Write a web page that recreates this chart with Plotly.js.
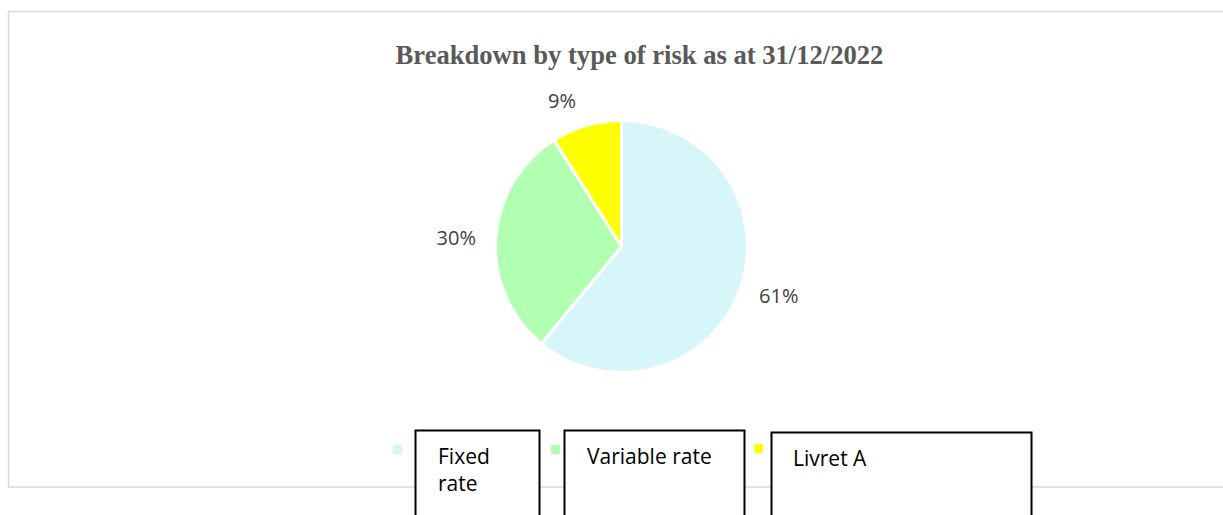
<!DOCTYPE html>
<html>
<head>
<meta charset="utf-8">
<script src="https://cdn.plot.ly/plotly-3.0.1.min.js"></script>
<style>
  html, body { margin: 0; padding: 0; background: #ffffff; }
  #chart { width: 1223px; height: 515px; }
</style>
</head>
<body>
<div id="chart"></div>
<script>
const categories = ['Fixed rate', 'Variable rate', 'Livret A'];
const shares = [61, 30, 9];
const sliceColors = ['#D6F6FA', '#B1FFB1', '#FFFF00'];
const boxLabels = ['Fixed<br>rate', 'Variable rate', 'Livret A'];
const chartTitle = 'Breakdown by type of risk as at 31/12/2022';

const W = 1223, H = 515;
const px = v => v / W;
const py = v => 1 - v / H;

// pie geometry (pixels)
const cx = 621.5, cy = 246.5, R = 126, labelR = 139;

// legend layout (pixel geometry)
const boxes = [
  {x0: 415.5, x1: 539.5, y0: 430.5, sq: [393, 445], tx: 436, ty: 440},
  {x0: 564.5, x1: 744.5, y0: 430.5, sq: [551, 445], tx: 585, ty: 440},
  {x0: 771.5, x1: 1031.5, y0: 432.5, sq: [754, 444], tx: 791, ty: 442}
];

const shapes = [
  {type: 'rect', xref: 'paper', yref: 'paper', x0: px(8.5), x1: px(1240), y0: py(11.5), y1: py(487),
   line: {color: '#D9D9D9', width: 1.5}, fillcolor: 'rgba(0,0,0,0)', layer: 'below'}
];
const annotations = [];
boxes.forEach((b, i) => {
  shapes.push({type: 'rect', xref: 'paper', yref: 'paper', x0: px(b.sq[0]), x1: px(b.sq[0] + 9),
    y0: py(b.sq[1]), y1: py(b.sq[1] + 9), line: {width: 0}, fillcolor: sliceColors[i], layer: 'above'});
  shapes.push({type: 'rect', xref: 'paper', yref: 'paper', x0: px(b.x0), x1: px(b.x1),
    y0: py(b.y0), y1: py(540), line: {color: '#000000', width: 2}, fillcolor: '#ffffff', layer: 'above'});
  annotations.push({xref: 'paper', yref: 'paper', x: px(b.tx), y: py(b.ty), xanchor: 'left', yanchor: 'top',
    align: 'left', showarrow: false, text: boxLabels[i],
    font: {family: 'Open Sans, sans-serif', size: 21, color: '#000000'}});
});

// invisible, slightly larger pie that only carries the outside percentage labels
const labelTrace = {
  type: 'pie',
  labels: categories,
  values: shares,
  sort: false,
  direction: 'clockwise',
  rotation: 0,
  marker: {colors: ['rgba(0,0,0,0)', 'rgba(0,0,0,0)', 'rgba(0,0,0,0)'], line: {width: 0}},
  textinfo: 'percent',
  textposition: 'outside',
  outsidetextfont: {family: 'Open Sans, sans-serif', size: 20, color: '#404040'},
  hoverinfo: 'skip',
  domain: {x: [px(cx - labelR), px(cx + labelR)], y: [py(cy + labelR), py(cy - labelR)]},
  showlegend: false
};

const trace = {
  type: 'pie',
  labels: categories,
  values: shares,
  sort: false,
  direction: 'clockwise',
  rotation: 0,
  marker: {colors: sliceColors, line: {color: '#ffffff', width: 3}},
  textinfo: 'none',
  hoverinfo: 'label+percent',
  domain: {x: [px(cx - R), px(cx + R)], y: [py(cy + R), py(cy - R)]},
  showlegend: false
};

const layout = {
  width: W, height: H,
  margin: {l: 0, r: 0, t: 0, b: 0},
  paper_bgcolor: '#ffffff',
  title: {text: '<b>' + chartTitle + '</b>', x: px(639.5), xanchor: 'center', xref: 'paper',
    y: py(54.7), yanchor: 'middle', yref: 'container',
    font: {family: 'Liberation Serif, Times New Roman, serif', size: 26.6, color: '#595959'}},
  showlegend: false,
  shapes: shapes,
  annotations: annotations
};

Plotly.newPlot('chart', [labelTrace, trace], layout, {displayModeBar: false, staticPlot: true});
</script>
</body>
</html>
